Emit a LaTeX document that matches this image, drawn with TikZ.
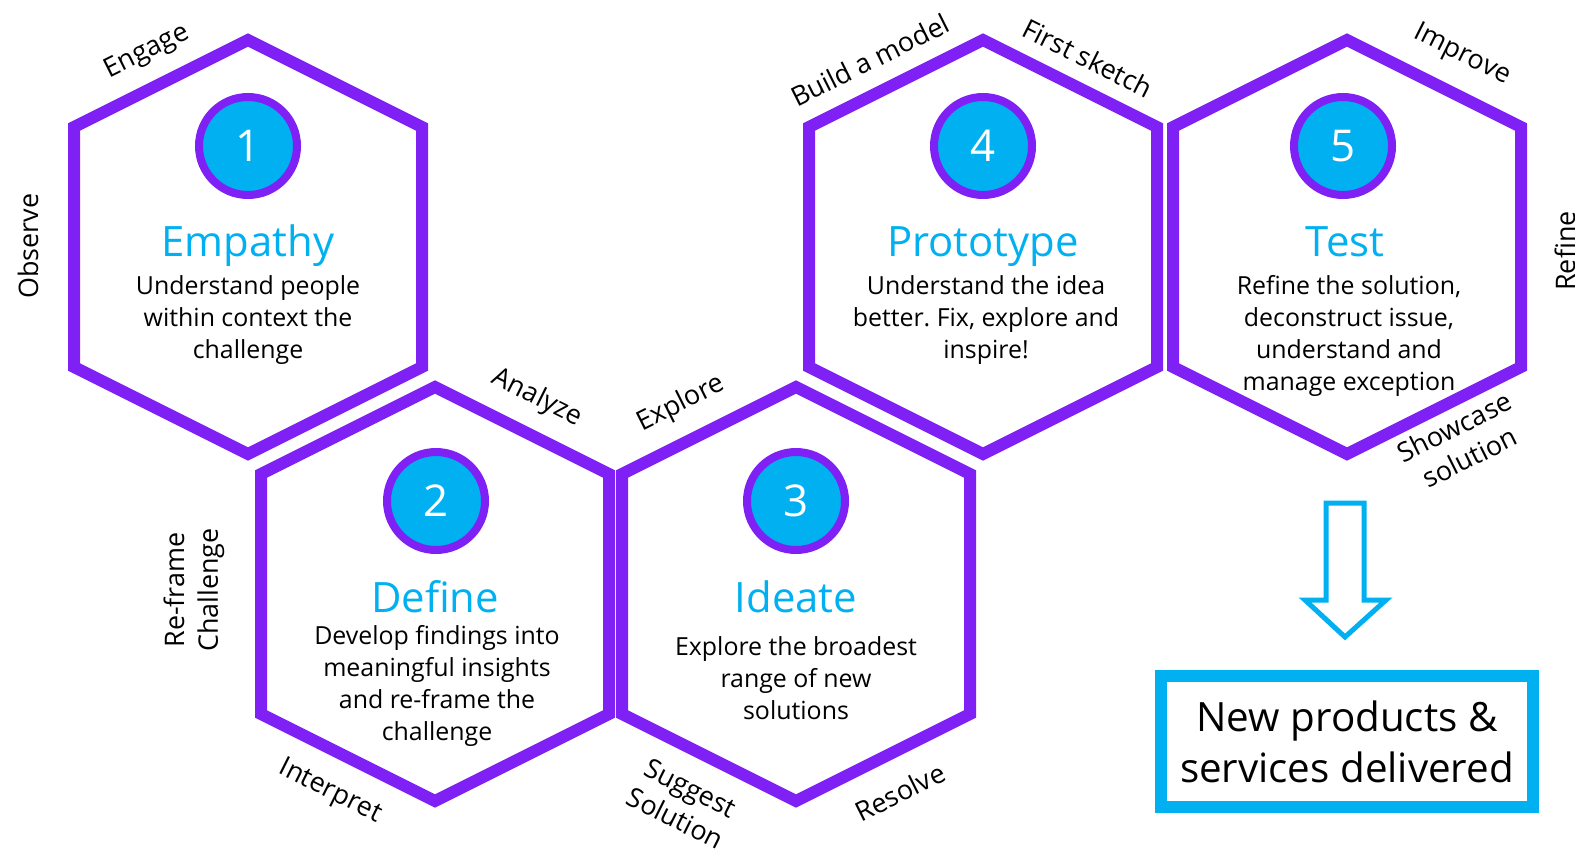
\documentclass[tikz,border=0pt]{standalone}
\usepackage{fontspec}
\setmainfont{Open Sans}
\usetikzlibrary{positioning}
\definecolor{hexpurple}{HTML}{7F20F5}
\definecolor{stepcyan}{HTML}{00B0F0}
\frenchspacing
\tikzset{
  hexline/.style={draw=hexpurple,line width=12bp,line join=miter},
  numdot/.style={circle,draw=hexpurple,fill=stepcyan,line width=8bp,minimum size=98bp,inner sep=0pt,text=white,font=\fontsize{44}{44}\selectfont},
  steptitle/.style={text=stepcyan,inner sep=0pt,anchor=base,font=\fontsize{42}{50}\selectfont},
  stepbody/.style={align=center,inner sep=0pt,font=\fontsize{25}{32}\selectfont},
  edgelabel/.style={align=center,inner sep=0pt,font=\fontsize{27}{34}\selectfont},
  outbox/.style={draw=stepcyan,line width=12bp,minimum width=372bp,minimum height=131bp,align=center,font=\fontsize{40.5}{51}\selectfont},
  outarrow/.style={draw=stepcyan,line width=5bp,line join=miter},
}
\begin{document}
\begin{tikzpicture}[x=1bp,y=-1bp]
 \useasboundingbox (0,0) rectangle (1575,855);
 % hexagon outlines
 \foreach \cx/\cy in {248/247, 435/594, 796/594, 983/247, 1347/247}
   \draw[hexline] (\cx,\cy) ++(0,-207) -- ++(174,87) -- ++(0,240) -- ++(-174,87) -- ++(-174,-87) -- ++(0,-240) -- cycle;
 % numbered discs
 \node[numdot] (dot1) at (248,146) {1};
 \node[numdot] (dot2) at (436,501) {2};
 \node[numdot] (dot3) at (796,501) {3};
 \node[numdot] (dot4) at (983,146) {4};
 \node[numdot] (dot5) at (1343,146) {5};
 % titles and texts
 \node[steptitle] (empathy) at (248,256) {Empathy};
 \node[stepbody] (empathytxt) at (248,320) {Understand people\\within context the\\challenge};
 \node[steptitle] (define) at (435,612) {Define};
 \node[stepbody] (definetxt) at (437,686) {Develop findings into\\meaningful insights\\and re-frame the\\challenge};
 \node[steptitle] (ideate) at (796,612) {Ideate};
 \node[stepbody] (ideatetxt) at (796,678) {Explore the broadest\\range of new\\solutions};
 \node[steptitle] (prototype) at (983,256) {Prototype};
 \node[stepbody] (prototypetxt) at (986,320) {Understand the idea\\better. Fix, explore and\\inspire!};
 \node[steptitle] (test) at (1345,256) {Test};
 \node[stepbody] (testtxt) at (1349,336) {Refine the solution,\\deconstruct issue,\\understand and\\manage exception};
 % labels along the edges
 \node[edgelabel,rotate=26.57] (engage) at (147,52) {Engage};
 \node[edgelabel,rotate=90] (observe) at (28,246) {Observe};
 \node[edgelabel,rotate=-26.57] (analyze) at (537,398) {Analyze};
 \node[edgelabel,rotate=90] (reframe) at (194,590) {Re-frame\\Challenge};
 \node[edgelabel,rotate=-26.57] (interpret) at (330,792) {Interpret};
 \node[edgelabel,rotate=26.57] (explore) at (681,404) {Explore};
 \node[edgelabel,rotate=-26.57] (suggest) at (683,803) {Suggest\\Solution};
 \node[edgelabel,rotate=26.57] (resolve) at (900,792) {Resolve};
 \node[edgelabel,rotate=26.57] (build) at (870,60) {Build a model};
 \node[edgelabel,rotate=-26.57] (sketch) at (1088,58) {First sketch};
 \node[edgelabel,rotate=-26.57] (improve) at (1462,55) {Improve};
 \node[edgelabel,rotate=90] (refine) at (1565,251) {Refine};
 \node[edgelabel,rotate=26.57] (showcase) at (1462,442) {Showcase\\solution};
 % outcome
 \draw[outarrow] (1326,503) -- (1364,503) -- (1364,600) -- (1386,600) -- (1345,637) -- (1305,600) -- (1326,600) -- cycle;
 \node[outbox] (result) at (1347,741.5) {New products \&\\services delivered};
\end{tikzpicture}
\end{document}
